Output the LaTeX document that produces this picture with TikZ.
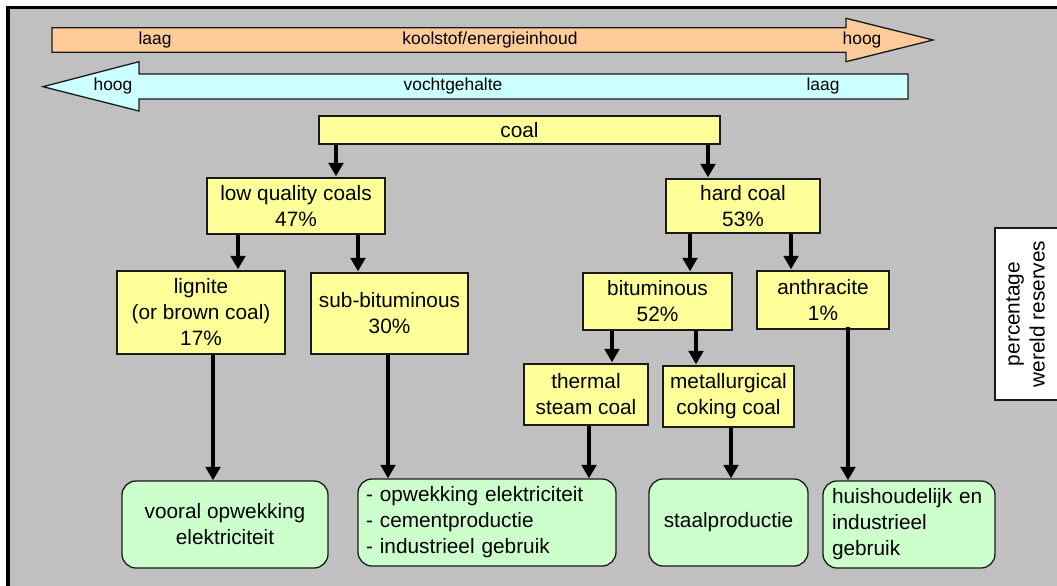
\documentclass[tikz,border=0pt]{standalone}
\usepackage{fontspec}
\setmainfont{Liberation Sans}
\usetikzlibrary{arrows.meta,calc}
\definecolor{bggray}{HTML}{C0C0C0}
\definecolor{orangefill}{HTML}{FFCC99}
\definecolor{cyanfill}{HTML}{CCFFFF}
\definecolor{yellowfill}{HTML}{FFFF99}
\definecolor{greenfill}{HTML}{CCFFCC}
\definecolor{edge}{HTML}{1A1A1A}
\begin{document}
\begin{tikzpicture}[x=1pt,y=-1pt,
  ybox/.style={draw=edge,line width=1.3pt,fill=yellowfill,align=center,inner sep=0pt,
    font=\fontsize{20.8}{26}\selectfont},
  gbox/.style={draw=edge,line width=1.3pt,fill=greenfill,rounded corners=14pt,inner sep=0pt,
    font=\fontsize{20.8}{26}\selectfont},
  toplabel/.style={font=\fontsize{17.4}{20}\selectfont,inner sep=0pt},
  bigarrow/.style={draw=edge,line width=1.3pt},
  arr/.style={line width=3.6pt,-{Triangle[width=14.5pt,length=13.5pt]}},
]
\useasboundingbox (0,0) rectangle (1057,586);
\clip (0,0) rectangle (1057,586);
% background and frame
\fill[bggray] (8,8) rectangle (1060,590);
\draw[line width=3.5pt] (8,590) -- (8,7.7) -- (1060,7.7);

% big arrows
\draw[bigarrow,fill=orangefill] (52,27.7) -- (846,27.7) -- (846,18.3) -- (933,40)
  -- (846,61.7) -- (846,52.3) -- (52,52.3) -- cycle;
\node[toplabel] (olow) at (155,40) {laag};
\node[toplabel] (otitle) at (490,40) {koolstof/energieinhoud};
\node[toplabel] (ohigh) at (862,40) {hoog};

\draw[bigarrow,fill=cyanfill] (908,74) -- (139,74) -- (139,61.7) -- (43,86.7)
  -- (139,111) -- (139,99) -- (908,99) -- cycle;
\node[toplabel] (chigh) at (113,86.5) {hoog};
\node[toplabel] (ctitle) at (453,86.5) {vochtgehalte};
\node[toplabel] (clow) at (823,86.5) {laag};

% yellow boxes
\node[ybox,minimum width=401pt,minimum height=28pt] (coal) at (519.5,130) {coal};
\node[ybox,minimum width=178pt,minimum height=56pt] (low) at (296,206) {low quality coals\\47\%};
\node[ybox,minimum width=168pt,minimum height=83pt] (lig) at (201,312.5) {lignite\\(or brown coal)\\17\%};
\node[ybox,minimum width=157pt,minimum height=81pt] (sub) at (389.5,313.5) {sub-bituminous\\30\%};
\node[ybox,minimum width=154pt,minimum height=54pt] (hard) at (743,206) {hard coal\\53\%};
\node[ybox,minimum width=149pt,minimum height=57pt] (bit) at (657.5,301.5) {bituminous\\52\%};
\node[ybox,minimum width=132pt,minimum height=58pt] (anth) at (823,300) {anthracite\\1\%};
\node[ybox,minimum width=124pt,minimum height=61pt] (therm) at (586,394.5) {thermal\\steam coal};
\node[ybox,minimum width=131pt,minimum height=61pt] (metal) at (728.5,396.5) {metallurgical\\coking coal};

% green boxes
\node[gbox,align=center,minimum width=206pt,minimum height=87pt] (g1) at (225,524.5) {vooral opwekking\\elektriciteit};
\node[gbox,minimum width=258pt,minimum height=87pt,text width=242pt,align=left] (g2) at (487,522.5)
  {- opwekking elektriciteit\\- cementproductie\\- industrieel gebruik};
\node[gbox,align=center,minimum width=159pt,minimum height=87pt] (g3) at (728.5,522.5) {staalproductie};
\node[gbox,minimum width=172pt,minimum height=87pt,text width=154pt,align=left] (g4) at (909,524.5)
  {huishoudelijk en\\industrieel\\gebruik};

% white legend box
\node[draw=edge,line width=1.3pt,fill=white,minimum width=70pt,minimum height=172pt,inner sep=0pt] (legend) at (1030,314) {};
\node[rotate=90,align=center,inner sep=0pt,font=\fontsize{20.8}{25}\selectfont] (legtext) at (1025.5,314)
  {percentage\\wereld reserves};

% arrow x positions
\coordinate (x1) at (336,0);
\coordinate (x2) at (708,0);
\coordinate (x3) at (238,0);
\coordinate (x4) at (358,0);
\coordinate (x5) at (690,0);
\coordinate (x6) at (791,0);
\coordinate (x7) at (612,0);
\coordinate (x8) at (696,0);
\coordinate (x9) at (213,0);
\coordinate (x10) at (388,0);
\coordinate (x11) at (589,0);
\coordinate (x12) at (731,0);
\coordinate (x13) at (848,0);

\draw[arr] (coal.south -| x1) -- ([yshift=1pt]low.north -| x1);
\draw[arr] (coal.south -| x2) -- ([yshift=1pt]hard.north -| x2);
\draw[arr] (low.south -| x3) -- ([yshift=1pt]lig.north -| x3);
\draw[arr] (low.south -| x4) -- ([yshift=1pt]sub.north -| x4);
\draw[arr] (hard.south -| x5) -- ([yshift=1pt]bit.north -| x5);
\draw[arr] (hard.south -| x6) -- ([yshift=1pt]anth.north -| x6);
\draw[arr] (bit.south -| x7) -- ([yshift=1pt]therm.north -| x7);
\draw[arr] (bit.south -| x8) -- ([yshift=1pt]metal.north -| x8);
\draw[arr] (lig.south -| x9) -- (g1.north -| x9);
\draw[arr] (sub.south -| x10) -- (g2.north -| x10);
\draw[arr] (therm.south -| x11) -- (g2.north -| x11);
\draw[arr] (metal.south -| x12) -- (g3.north -| x12);
\draw[arr] ([yshift=3pt]anth.south -| x13) -- (g4.north -| x13);
\end{tikzpicture}
\end{document}
